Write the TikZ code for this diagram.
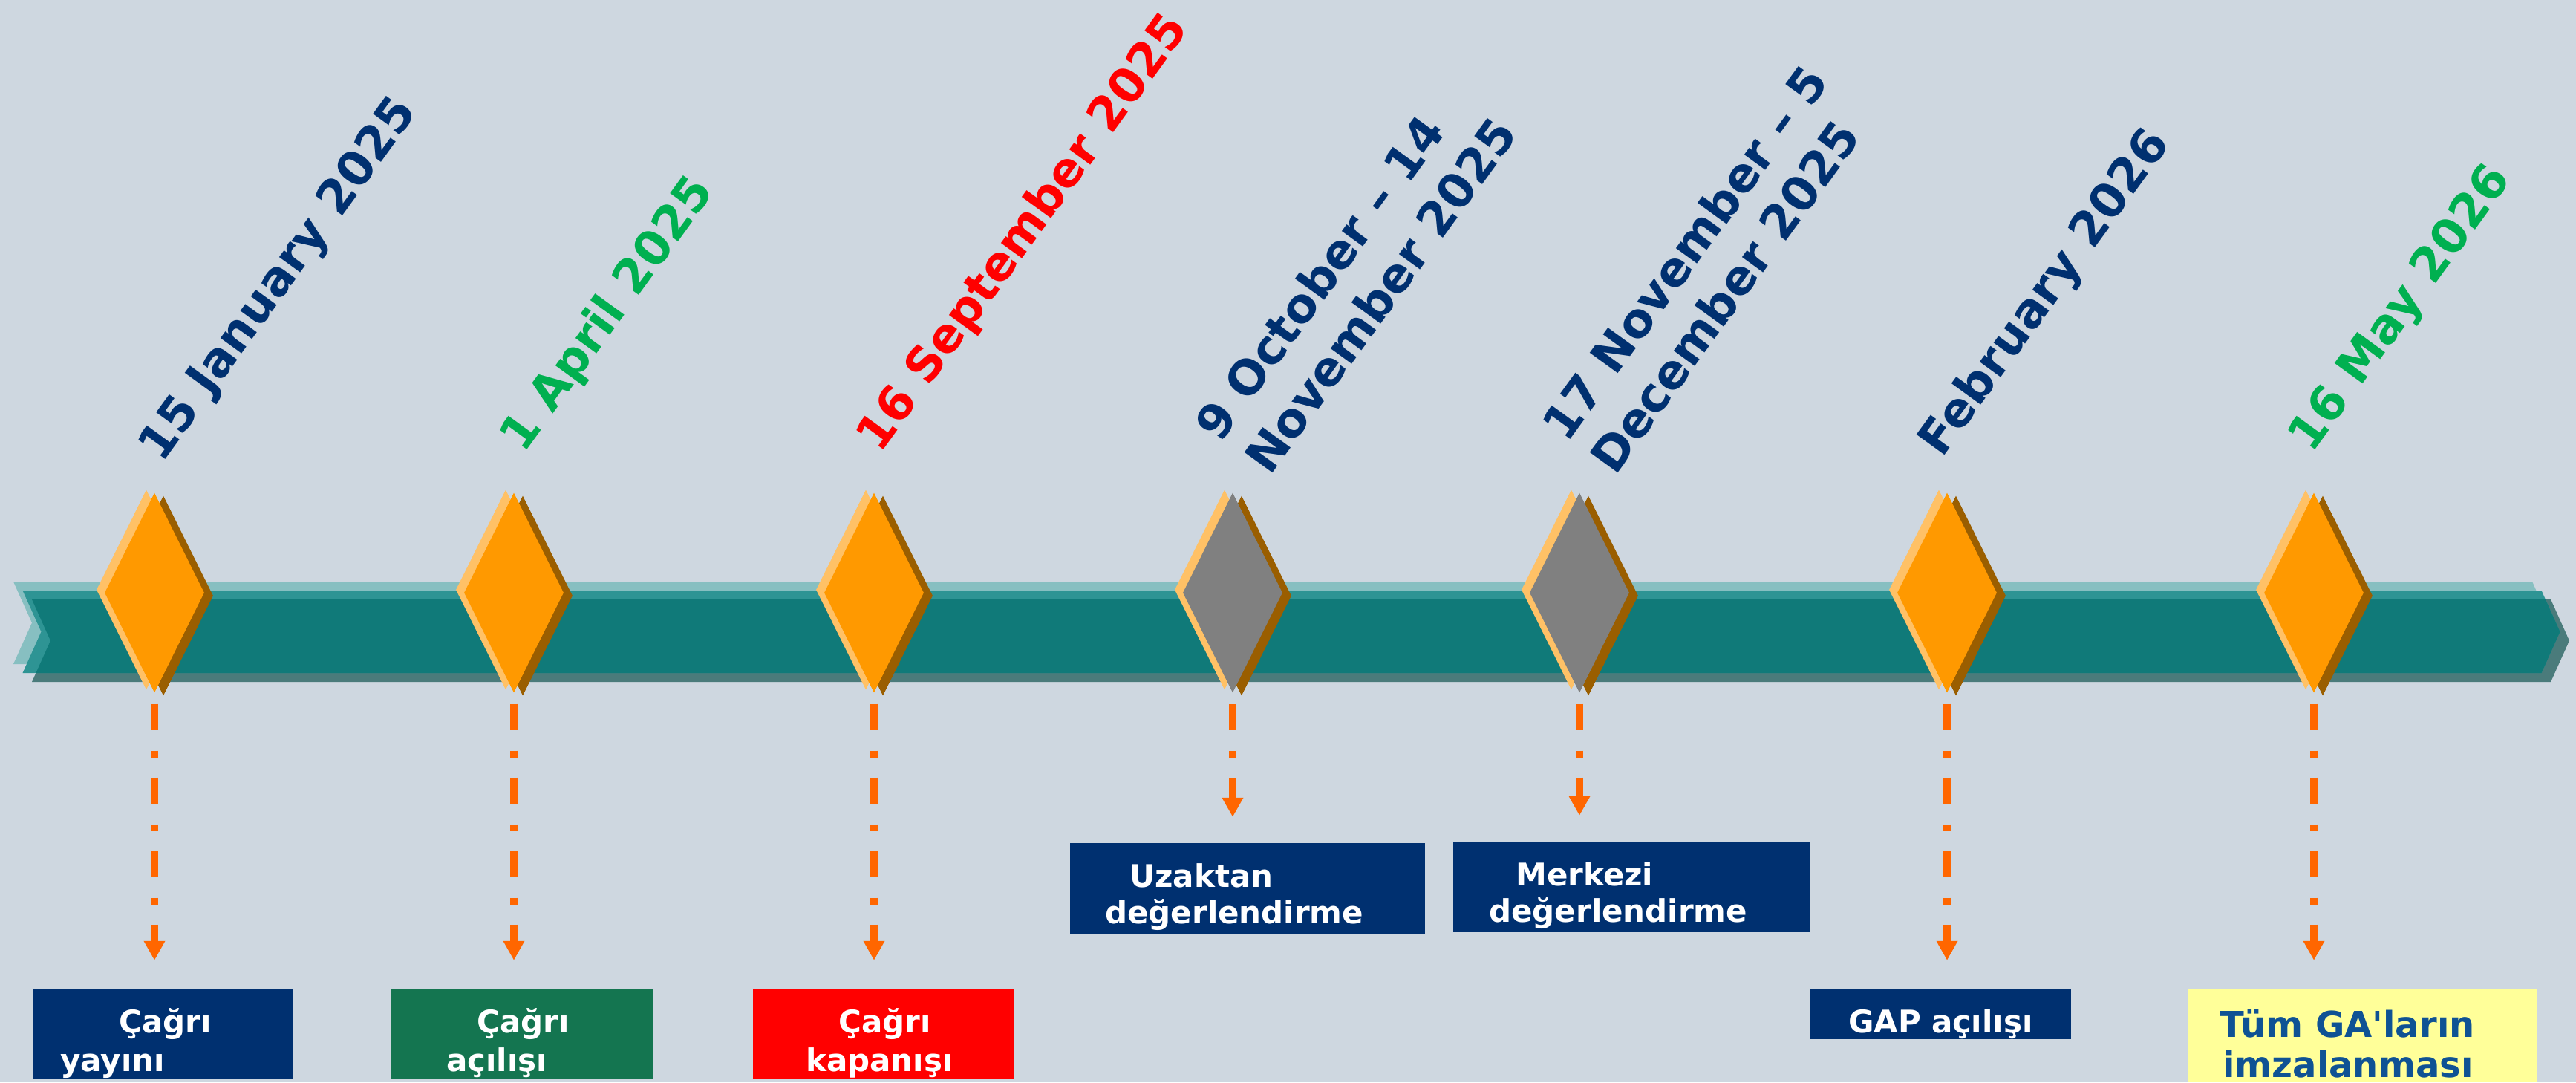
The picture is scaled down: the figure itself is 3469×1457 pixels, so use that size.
\documentclass[tikz,border=0pt]{standalone}
\usepackage{fontspec}
\setmainfont{DejaVu Sans}
\usetikzlibrary{arrows.meta,shapes.geometric}
\definecolor{bgc}{HTML}{CED7E0}
\definecolor{tealA}{HTML}{87BFC1}
\definecolor{tealB}{HTML}{2E9494}
\definecolor{tealC}{HTML}{4A7B7B}
\definecolor{tealD}{HTML}{107A79}
\definecolor{dLight}{HTML}{FFC166}
\definecolor{dDark}{HTML}{9A5E00}
\definecolor{dOrange}{HTML}{FF9900}
\definecolor{dGrey}{HTML}{808080}
\definecolor{arrowc}{HTML}{FF6600}
\definecolor{navyc}{HTML}{003070}
\definecolor{greenl}{HTML}{00B050}
\definecolor{greenb}{HTML}{147550}
\definecolor{redc}{HTML}{FF0000}
\definecolor{yellowb}{HTML}{FFFF99}
\definecolor{bluet}{HTML}{0F5294}
\newcommand\chevpath[2]{(18+#1,783+#2) -- (3410+#1,783+#2) -- (3435+#1,838.5+#2) -- (3410+#1,894+#2) -- (18+#1,894+#2) -- (43+#1,838.5+#2) -- cycle}
\newcommand\milestone[3]{%
  \node[gem, fill=dLight] (#1l) at (#2-11,794) {};
  \node[gem, fill=dDark] (#1d) at (#2+12,802) {};
  \node[gem, fill=#3] (#1) at (#2,798) {};
}
\tikzset{
  gem/.style={diamond, inner sep=0pt, minimum width=134pt, minimum height=269pt, draw=none},
  dasharrow/.style={draw=arrowc, line width=10pt, dash pattern=on 35pt off 28pt on 9pt off 27pt, -{Triangle[width=27pt,length=26pt]}},
  evbox/.style={rectangle, inner sep=0pt, draw=none},
  evtxt/.style={inner sep=0pt, anchor=base west, text=white, font=\fontsize{42}{50}\selectfont\bfseries},
  datelbl/.style={inner sep=0pt, anchor=base west, rotate=54, font=\fontsize{64}{76}\selectfont\bfseries}
}
\begin{document}
\begin{tikzpicture}[x=1pt,y=-1pt]
\useasboundingbox (0,0) rectangle (3469,1457);
\fill[bgc] (0,0) rectangle (3469,1457);
% band
\fill[tealA] \chevpath{0}{0};
\fill[tealC] \chevpath{25}{24};
\fill[tealB] \chevpath{12.5}{12};
\begin{scope}
  \clip \chevpath{12.5}{12};
  \fill[tealD] \chevpath{25}{24};
\end{scope}
% milestones
\milestone{d1}{208}{dOrange}
\milestone{d2}{692}{dOrange}
\milestone{d3}{1177}{dOrange}
\milestone{d4}{1660}{dGrey}
\milestone{d5}{2127}{dGrey}
\milestone{d6}{2622}{dOrange}
\milestone{d7}{3116}{dOrange}
% date labels
\node[datelbl, text=navyc] (l1) at (218,625) {15 January 2025};
\node[datelbl, text=greenl] (l2) at (705,612) {1 April 2025};
\node[datelbl, text=redc] (l3) at (1185,612) {16 September 2025};
\node[datelbl, text=navyc] (l4a) at (1643,598) {9 October – 14};
\node[datelbl, text=navyc] (l4b) at (1710,642) {November 2025};
\node[datelbl, text=navyc] (l5a) at (2110,598) {17 November – 5};
\node[datelbl, text=navyc] (l5b) at (2175,642) {December 2025};
\node[datelbl, text=navyc] (l6) at (2615,618) {February 2026};
\node[datelbl, text=greenl] (l7) at (3113,612) {16 May 2026};
% boxes
\node[evbox, fill=navyc, minimum width=351pt, minimum height=121pt] (b1) at (219.5,1392.5) {};
\node[evbox, fill=greenb, minimum width=352pt, minimum height=121pt] (b2) at (703,1392.5) {};
\node[evbox, fill=redc, minimum width=352pt, minimum height=121pt] (b3) at (1190,1392.5) {};
\node[evbox, fill=navyc, minimum width=478pt, minimum height=122pt] (b4) at (1680,1196) {};
\node[evbox, fill=navyc, minimum width=481pt, minimum height=122pt] (b5) at (2197.5,1194) {};
\node[evbox, fill=navyc, minimum width=352pt, minimum height=67pt] (b6) at (2613,1365.5) {};
\node[evbox, fill=yellowb, minimum width=470pt, minimum height=125pt] (b7) at (3181,1394.5) {};
% box texts
\node[evtxt] (t1a) at (160,1390) {Çağrı};
\node[evtxt] (t1b) at (81,1442) {yayını};
\node[evtxt] (t2a) at (642,1390) {Çağrı};
\node[evtxt] (t2b) at (601,1442) {açılışı};
\node[evtxt] (t3a) at (1129,1390) {Çağrı};
\node[evtxt] (t3b) at (1085,1442) {kapanışı};
\node[evtxt] (t4a) at (1521,1194) {Uzaktan};
\node[evtxt] (t4b) at (1488,1243) {değerlendirme};
\node[evtxt] (t5a) at (2041,1192) {Merkezi};
\node[evtxt] (t5b) at (2005,1241) {değerlendirme};
\node[evtxt] (t6) at (2489,1390) {GAP açılışı};
\node[evtxt, text=bluet, font=\fontsize{48}{56}\selectfont\bfseries] (t7a) at (2989,1396) {Tüm GA\textquotesingle ların};
\node[evtxt, text=bluet, font=\fontsize{48}{56}\selectfont\bfseries] (t7b) at (2993,1450) {imzalanması};
% connectors
\draw[dasharrow] ([yshift=-15pt]d1.south) -- ([yshift=39pt]d1.south |- b1.north);
\draw[dasharrow] ([yshift=-15pt]d2.south) -- ([yshift=39pt]d2.south |- b2.north);
\draw[dasharrow] ([yshift=-15pt]d3.south) -- ([yshift=39pt]d3.south |- b3.north);
\draw[dasharrow] ([yshift=-15pt]d4.south) -- ([yshift=35pt]d4.south |- b4.north);
\draw[dasharrow] ([yshift=-15pt]d5.south) -- ([yshift=35pt]d5.south |- b5.north);
\draw[dasharrow] ([yshift=-15pt]d6.south) -- ([yshift=39pt]d6.south |- b6.north);
\draw[dasharrow] ([yshift=-15pt]d7.south) -- ([yshift=39pt]d7.south |- b7.north);
\end{tikzpicture}
\end{document}
